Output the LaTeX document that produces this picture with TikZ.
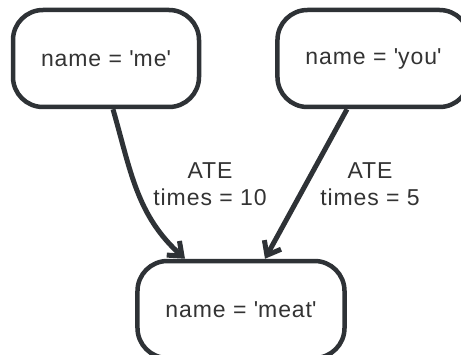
\documentclass[tikz,border=0pt]{standalone}
\usepackage{fontspec}
\setmainfont{Liberation Sans}[LetterSpace=4]
\usetikzlibrary{arrows.meta}
\definecolor{inkgray}{HTML}{2E3236}
\definecolor{textgray}{HTML}{333333}
\newcommand{\sq}{\textquotesingle}
\begin{document}
\begin{tikzpicture}[x=1pt, y=1pt, >={Straight Barb[length=12pt, width=19pt]},
    entity/.style={draw=inkgray, line width=4.5pt, rounded corners=30pt,
      minimum height=97pt, inner xsep=28pt, text=textgray,
      font=\fontsize{23}{27}\selectfont},
    relation/.style={draw=inkgray, line width=5pt, ->},
    rellabel/.style={align=center, text=textgray,
      font=\fontsize{23}{27}\selectfont}]
    \useasboundingbox (0,0) rectangle (461,354);

    \node[entity] (me)   at (106, 295.5)   {name = \sq me\sq};
    \node[entity] (you)  at (373.5, 295.5) {name = \sq you\sq};
    \node[entity] (meat) at (241, 44.5)    {name = \sq meat\sq};

    \draw[relation] ([xshift=7pt]me.south) to[out=-74, in=138] ([xshift=-56pt]meat.north);
    \draw[relation] ([xshift=-26.5pt]you.south) -- ([xshift=24pt]meat.north);

    \node[rellabel] (ateme)  at (210, 170) {ATE\\times =\ 10};
    \node[rellabel] (ateyou) at (370, 170) {ATE\\times =\ 5};
  \end{tikzpicture}
\end{document}
